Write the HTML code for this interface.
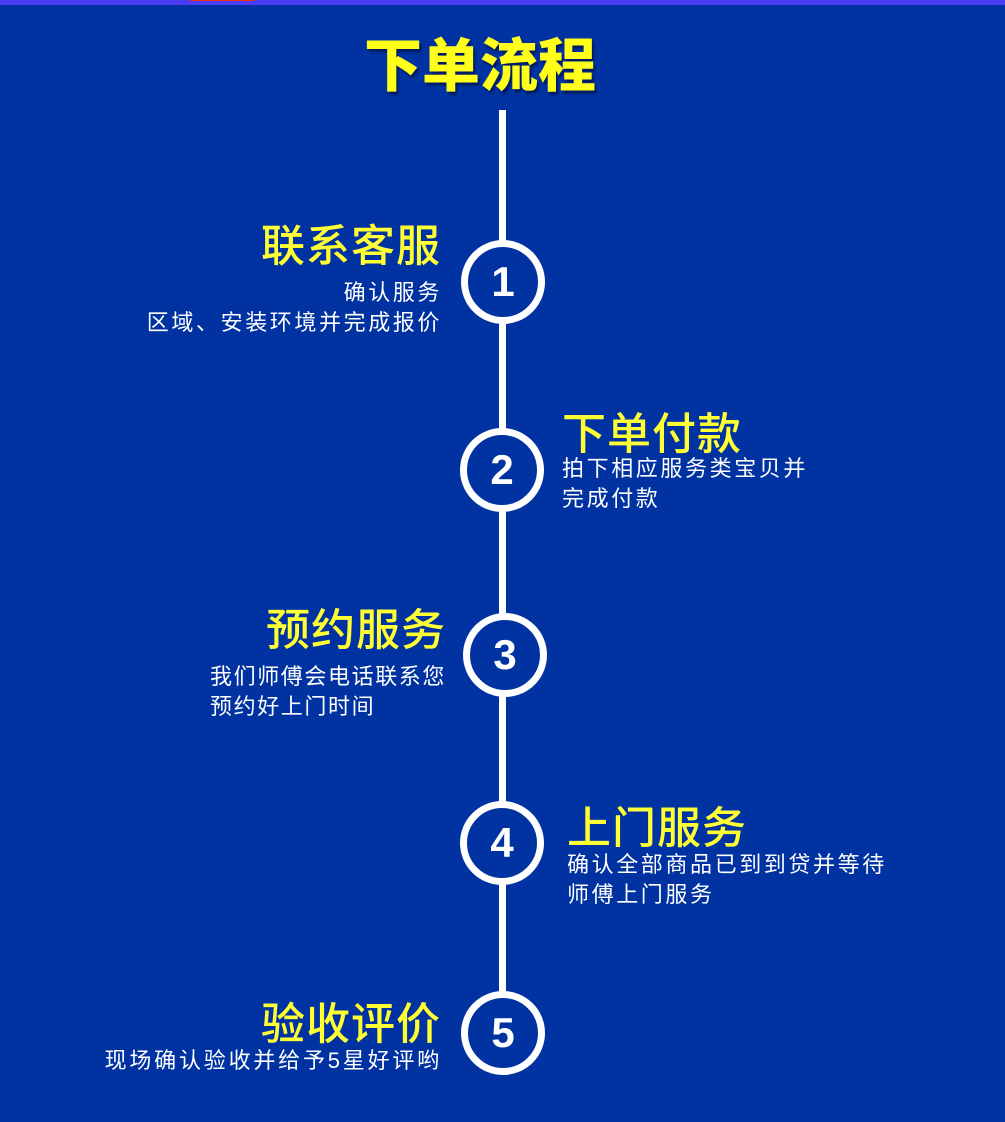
<!DOCTYPE html>
<html><head><meta charset="utf-8"><style>
body{margin:0;width:1005px;height:1122px;background:#0033a1;position:relative;overflow:hidden;font-family:"Liberation Sans","Noto Sans CJK SC",sans-serif}
.top{position:absolute;left:0;top:0;width:1005px;height:5px;background:#4a3cf2}
.red{position:absolute;left:190px;top:0;width:64px;height:1px;background:#f03010}
.title{position:absolute;left:330px;top:32px;width:300px;text-align:center;font-size:58px;font-weight:900;color:#ffff1a;line-height:70px;text-shadow:2px 3px 2px #001a60}
.line{position:absolute;left:499px;top:110px;width:7px;height:900px;background:#fff}
.c{position:absolute;width:70px;height:70px;border:7px solid #fff;border-radius:50%;background:#0033a1;color:#fff;font-size:42px;font-weight:900;text-align:center;line-height:70px}
.h{position:absolute;font-size:44px;font-weight:500;color:#ffff33;line-height:50px;white-space:nowrap;letter-spacing:1px}
.s{position:absolute;font-size:22px;color:#fff;line-height:30px;white-space:nowrap;letter-spacing:2.6px}
.r{text-align:right}
</style></head><body>
<div class="top"></div><div class="red"></div>
<div class="title">下单流程</div>
<div class="line"></div>
<div class="c" style="left:461px;top:240px">1</div>
<div class="c" style="left:460px;top:428px">2</div>
<div class="c" style="left:463px;top:613px">3</div>
<div class="c" style="left:460px;top:801px">4</div>
<div class="c" style="left:461px;top:991px">5</div>

<div class="h r" style="right:564px;top:222px">联系客服</div>
<div class="s r" style="right:563px;top:278px">确认服务<br>区域、安装环境并完成报价</div>

<div class="h" style="left:562px;top:410px">下单付款</div>
<div class="s" style="left:562px;top:454px">拍下相应服务类宝贝并<br>完成付款</div>

<div class="h r" style="right:559px;top:606px">预约服务</div>
<div class="s" style="left:210px;top:662px;letter-spacing:1.6px">我们师傅会电话联系您<br>预约好上门时间</div>

<div class="h" style="left:567px;top:804px">上门服务</div>
<div class="s" style="left:567px;top:850px">确认全部商品已到到贷并等待<br>师傅上门服务</div>

<div class="h r" style="right:564px;top:1000px">验收评价</div>
<div class="s r" style="right:563px;top:1046px;letter-spacing:2.8px">现场确认验收并给予5星好评哟</div>
</body></html>
